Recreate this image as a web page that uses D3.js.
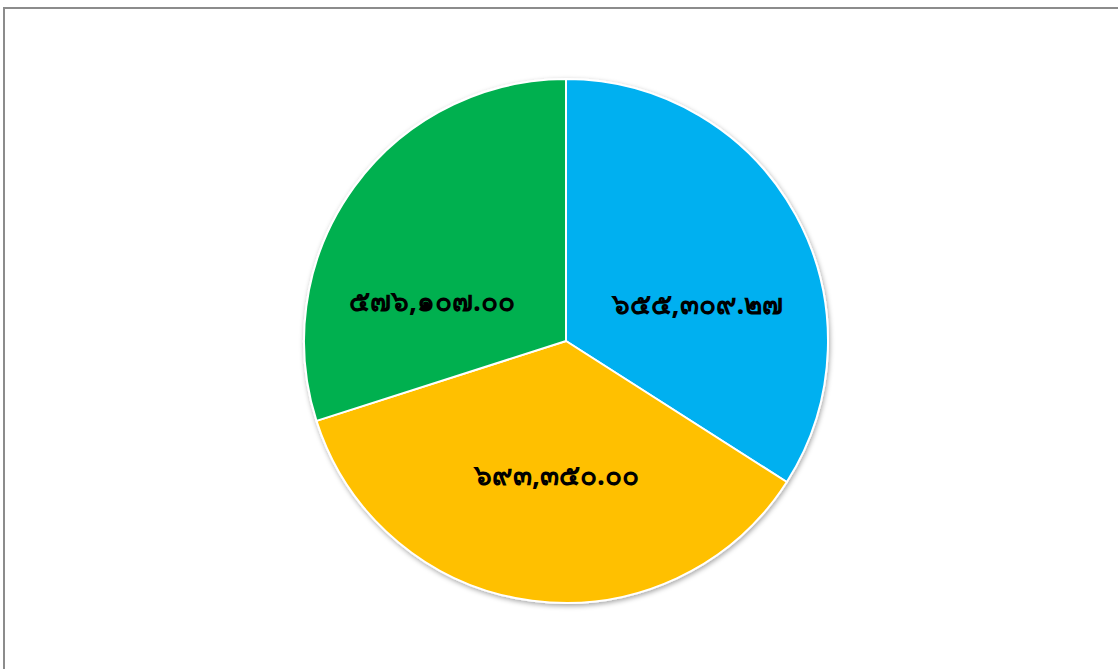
<!DOCTYPE html>
<html><head><meta charset="utf-8">
<script src="https://cdn.jsdelivr.net/npm/d3@7"></script>
<style>body{margin:0;background:#fff;}svg{display:block;}</style>
</head><body>
<script>
const categories = ["A", "B", "C"];
const values = [655309.27, 693350.00, 576107.00];
const labels = ["๖๕๕,๓๐๙.๒๗", "๖๙๓,๓๕๐.๐๐", "๕๗๖,๑๐๗.๐๐"];
const colors = ["#00B0F0", "#FFC000", "#00B050"];

const W = 1118, H = 669;
const svg = d3.select("body").append("svg").attr("width", W).attr("height", H);
const defs = svg.append("defs");
const f = defs.append("filter").attr("id","sh").attr("x","-20%").attr("y","-20%").attr("width","140%").attr("height","140%");
f.append("feDropShadow").attr("dx",1).attr("dy",2).attr("stdDeviation",2.5).attr("flood-color","#000").attr("flood-opacity",0.35);

svg.append("rect").attr("x",4).attr("y",8).attr("width",W+10).attr("height",H+10)
  .attr("fill","#fff").attr("stroke","#8c8c8c").attr("stroke-width",2);

const cx = 566, cy = 341, R = 262;
const pie = d3.pie().sort(null).value(d => d)(values);
const arc = d3.arc().innerRadius(0).outerRadius(R);
const g = svg.append("g").attr("transform", `translate(${cx},${cy})`);
g.append("g").attr("filter","url(#sh)").selectAll("path").data(pie).join("path")
  .attr("d", arc).attr("fill", (d,i) => colors[i])
  .attr("stroke","#fff").attr("stroke-width",2).attr("stroke-linejoin","round");

const labelArc = d3.arc().innerRadius(R*0.52).outerRadius(R*0.52);
const nudge = [[12,27],[8,-2],[-24,39]];
g.selectAll("text").data(pie).join("text")
  .attr("transform", (d,i) => { const c = labelArc.centroid(d); return `translate(${c[0]+nudge[i][0]},${c[1]+nudge[i][1]})`; })
  .attr("text-anchor","middle").attr("dominant-baseline","central")
  .attr("font-family","'Noto Sans', 'DejaVu Sans', sans-serif").attr("font-weight","bold")
  .attr("font-size",28).attr("fill","#000")
  .text((d,i) => labels[i]);
</script>
</body></html>
